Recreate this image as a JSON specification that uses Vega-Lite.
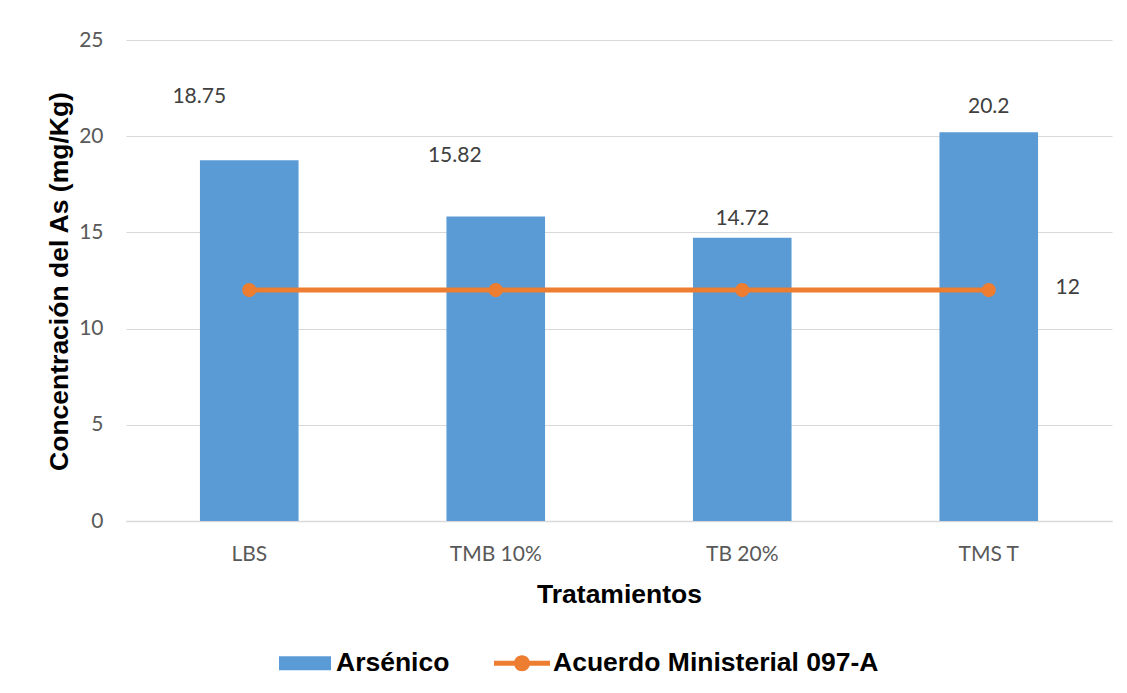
{
  "$schema": "https://vega.github.io/schema/vega-lite/v6.json",
  "width": 986,
  "height": 481,
  "autosize": {"type": "none"},
  "padding": {"left": 126, "top": 40, "right": 15, "bottom": 172},
  "background": "white",
  "config": {
    "view": {"stroke": null},
    "axis": {"labelFont": "Lato", "labelFontSize": 21, "labelColor": "#595959", "titleFont": "Liberation Sans", "titleFontSize": 26.5, "titleFontWeight": "bold", "titleColor": "#000000"}
  },
  "data": {
    "values": [
      {"trat": "LBS", "as": 18.75, "lim": 12},
      {"trat": "TMB 10%", "as": 15.82, "lim": 12},
      {"trat": "TB 20%", "as": 14.72, "lim": 12},
      {"trat": "TMS T", "as": 20.2, "lim": 12}
    ]
  },
  "encoding": {
    "x": {
      "field": "trat", "type": "nominal", "sort": null,
      "scale": {"paddingInner": 0.6, "paddingOuter": 0.3},
      "axis": {"title": "Tratamientos", "labelAngle": 0, "ticks": false, "domainColor": "#D9D9D9", "domainWidth": 1.5, "labelPadding": 33, "labelBaseline": "middle", "titleBaseline": "alphabetic", "titleY": 81}
    }
  },
  "layer": [
    {
      "mark": {"type": "bar", "color": "#5B9BD5"},
      "encoding": {
        "y": {
          "field": "as", "type": "quantitative",
          "scale": {"domain": [0, 25], "nice": false},
          "axis": {"title": "Concentración del As (mg/Kg)", "values": [0, 5, 10, 15, 20, 25], "ticks": false, "domain": false, "gridColor": "#D9D9D9", "gridWidth": 1.2, "labelPadding": 23, "titleAngle": -90, "titleBaseline": "alphabetic", "titleX": -59, "titleY": 241, "titleAnchor": null, "titleAlign": "center"}
        },
        "color": {
          "datum": "Arsénico", "type": "nominal",
          "scale": {"domain": ["Arsénico", "Acuerdo Ministerial 097-A"], "range": ["#5B9BD5", "#ED7D31"]},
          "legend": {
            "title": null,
            "orient": "none",
            "direction": "horizontal",
            "legendX": 151,
            "legendY": 595,
            "labelFont": "Liberation Sans",
            "labelFontSize": 26.5,
            "labelFontWeight": "bold",
            "labelColor": "#000000",
            "labelOffset": 3,
            "columnPadding": 44,
            "symbolSize": 3136,
            "labelLimit": 600,
            "encode": {
              "symbols": {
                "update": {
                  "shape": {"signal": "datum.label === 'Arsénico' ? 'M-0.929,-0.25H0.929V0.25H-0.929Z' : 'M-1,-0.09H1V0.09H-1Z M-0.286,0A0.286,0.286 0 1,1 0.286,0A0.286,0.286 0 1,1 -0.286,0Z'"},
                  "fill": {"signal": "datum.label === 'Arsénico' ? '#5B9BD5' : '#ED7D31'"},
                  "stroke": {"value": "transparent"},
                  "strokeWidth": {"value": 0},
                  "opacity": {"value": 1},
                  "size": {"value": 3136}
                }
              }
            }
          }
        }
      }
    },
    {
      "mark": {"type": "line", "strokeWidth": 5, "point": {"filled": true, "size": 200}},
      "encoding": {
        "y": {"field": "lim", "type": "quantitative", "title": "Concentración del As (mg/Kg)"},
        "color": {"datum": "Acuerdo Ministerial 097-A", "type": "nominal"}
      }
    },
    {
      "transform": [{"filter": "datum.trat === 'LBS'"}],
      "mark": {"type": "text", "font": "Lato", "fontSize": 21, "color": "#404040", "baseline": "middle", "dx": -50, "dy": -63},
      "encoding": {"y": {"field": "as", "type": "quantitative"}, "text": {"field": "as", "type": "quantitative"}}
    },
    {
      "transform": [{"filter": "datum.trat === 'TMB 10%'"}],
      "mark": {"type": "text", "font": "Lato", "fontSize": 21, "color": "#404040", "baseline": "middle", "dx": -41, "dy": -61},
      "encoding": {"y": {"field": "as", "type": "quantitative"}, "text": {"field": "as", "type": "quantitative"}}
    },
    {
      "transform": [{"filter": "datum.trat === 'TB 20%'"}],
      "mark": {"type": "text", "font": "Lato", "fontSize": 21, "color": "#404040", "baseline": "middle", "dx": 0, "dy": -19},
      "encoding": {"y": {"field": "as", "type": "quantitative"}, "text": {"field": "as", "type": "quantitative"}}
    },
    {
      "transform": [{"filter": "datum.trat === 'TMS T'"}],
      "mark": {"type": "text", "font": "Lato", "fontSize": 21, "color": "#404040", "baseline": "middle", "dx": 0, "dy": -25},
      "encoding": {"y": {"field": "as", "type": "quantitative"}, "text": {"field": "as", "type": "quantitative"}}
    },
    {
      "transform": [{"filter": "datum.trat === 'TMS T'"}],
      "mark": {"type": "text", "font": "Lato", "fontSize": 21, "color": "#404040", "baseline": "middle", "dx": 79, "dy": -2},
      "encoding": {"y": {"field": "lim", "type": "quantitative"}, "text": {"field": "lim", "type": "quantitative"}}
    }
  ]
}
